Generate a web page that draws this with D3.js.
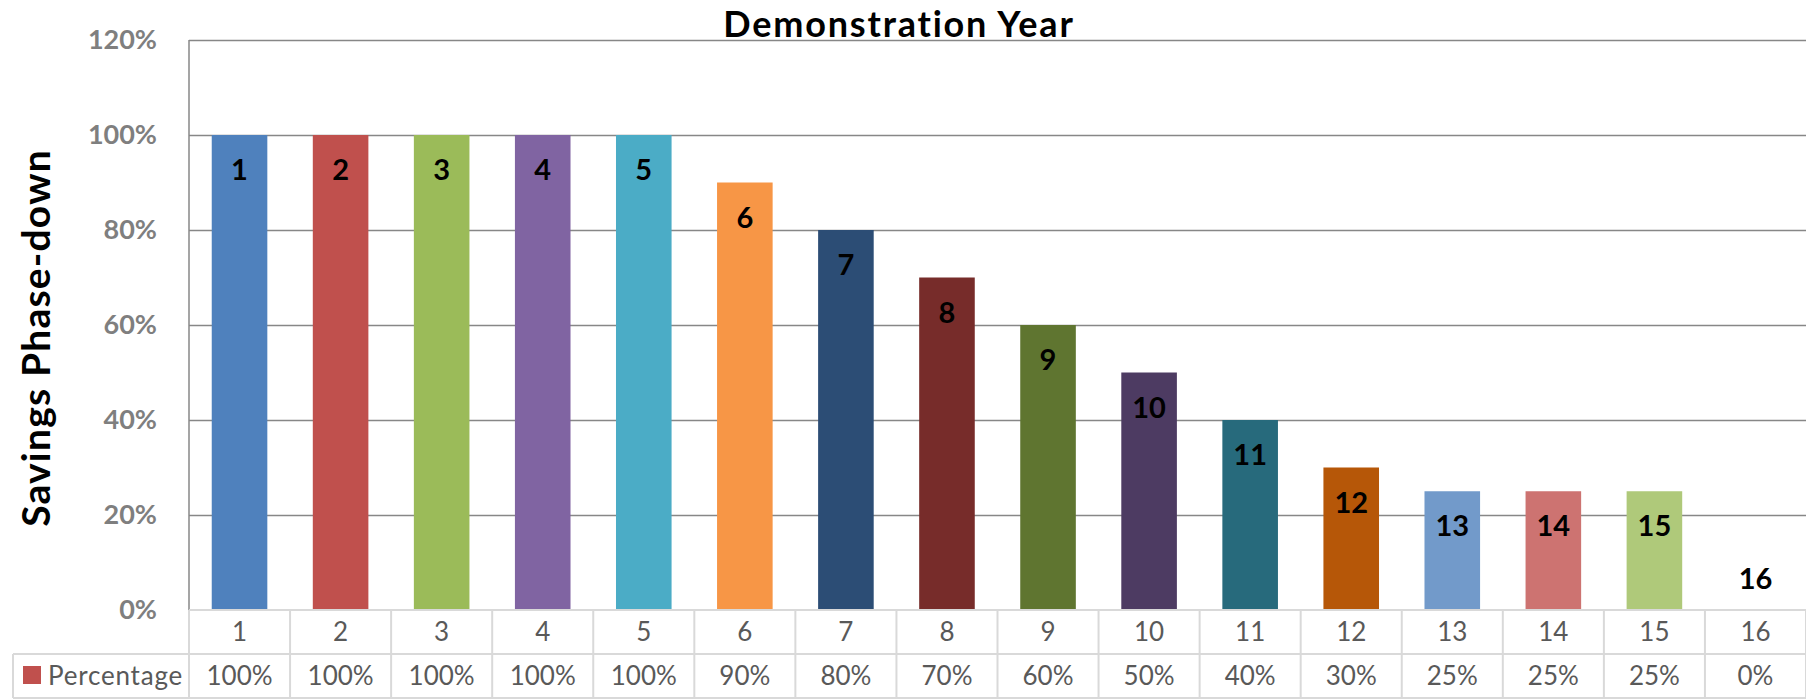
<!DOCTYPE html>
<html>
<head>
<meta charset="utf-8">
<script src="https://cdn.jsdelivr.net/npm/d3@7"></script>
<style>
  html, body { margin: 0; padding: 0; background: #fff; }
  svg { display: block; font-family: Lato, "Open Sans", sans-serif; }
</style>
</head>
<body>
<svg id="chart" width="1806" height="700"></svg>
<script>
// data
var years = ['1','2','3','4','5','6','7','8','9','10','11','12','13','14','15','16'];
var percentage = [100,100,100,100,100,90,80,70,60,50,40,30,25,25,25,0];
var barColors = ['#4f81bd','#c0504d','#9bbb59','#8064a2','#4bacc6','#f79646','#2c4d75','#772c2a',
                 '#5f7530','#4d3b62','#276a7c','#b65708','#729aca','#cd7371','#afc97a','#f4b183'];
var yTicks = [0,20,40,60,80,100,120];
var seriesName = 'Percentage';
var legendColor = '#c0504d';

var W = 1806, H = 700;
var m = {left: 189, right: 1806, top: 40, bottom: 610};
var rowH = 44;

var svg = d3.select('#chart');

var x = d3.scaleBand()
    .domain(years)
    .range([m.left, m.right])
    .paddingInner(0.45)
    .paddingOuter(0.225);

var y = d3.scaleLinear()
    .domain([0, 120])
    .range([m.bottom, m.top]);

// gridlines + tick labels
var yAxis = d3.axisLeft(y)
    .tickValues(yTicks)
    .tickSize(-(m.right - m.left))
    .tickPadding(32)
    .tickFormat(function(d){ return d + '%'; });

var gy = svg.append('g')
    .attr('class','yAxis')
    .attr('transform','translate(' + m.left + ',0)')
    .call(yAxis);
gy.select('.domain').remove();
gy.selectAll('.tick line')
    .attr('stroke', '#878787')
    .attr('stroke-width', 1.5)
    .filter(function(d){ return d === 0; }).remove();
gy.selectAll('.tick text')
    .attr('fill', '#7f7f7f')
    .attr('font-size', 27)
    .attr('font-weight', 'bold')
    .attr('font-family', 'Lato, sans-serif');

// left axis line
svg.append('line')
    .attr('x1', m.left).attr('x2', m.left)
    .attr('y1', y(120)).attr('y2', y(0))
    .attr('stroke', '#878787')
    .attr('stroke-width', 1.5);

// bars
var rows = years.map(function(d, i){ return {year: d, value: percentage[i], color: barColors[i]}; });

svg.append('g').selectAll('rect')
    .data(rows)
    .enter().append('rect')
    .attr('x', function(d){ return x(d.year); })
    .attr('width', x.bandwidth())
    .attr('y', function(d){ return y(d.value); })
    .attr('height', function(d){ return y(0) - y(d.value); })
    .attr('fill', function(d){ return d.color; });

// labels inside the bar tops
svg.append('g').selectAll('text')
    .data(rows)
    .enter().append('text')
    .attr('x', function(d){ return x(d.year) + x.bandwidth() / 2; })
    .attr('y', function(d){ return d.value > 0 ? y(d.value) + 35 : y(0) - 31; })
    .attr('dy', '0.35em')
    .attr('text-anchor', 'middle')
    .attr('font-size', 29)
    .attr('font-weight', 'bold')
    .attr('fill', '#000')
    .text(function(d){ return d.year; });

// data table under the plot
var table = svg.append('g').attr('class','table');
var grid = '#d9d9d9';
var step = x.step();
var cellLeft = function(i){ return m.left + i * step; };

table.append('line')
    .attr('x1', m.left).attr('x2', m.right)
    .attr('y1', m.bottom).attr('y2', m.bottom)
    .attr('stroke', grid).attr('stroke-width', 2);
[m.bottom + rowH, m.bottom + 2 * rowH].forEach(function(yy){
  table.append('line')
      .attr('x1', 13).attr('x2', m.right)
      .attr('y1', yy).attr('y2', yy)
      .attr('stroke', grid).attr('stroke-width', 2);
});
table.append('line')
    .attr('x1', 13).attr('x2', 13)
    .attr('y1', m.bottom + rowH).attr('y2', m.bottom + 2 * rowH)
    .attr('stroke', grid).attr('stroke-width', 2);
table.selectAll('.vline')
    .data(d3.range(years.length + 1))
    .enter().append('line')
    .attr('class','vline')
    .attr('x1', function(i){ return cellLeft(i); })
    .attr('x2', function(i){ return cellLeft(i); })
    .attr('y1', m.bottom).attr('y2', m.bottom + 2 * rowH)
    .attr('stroke', grid).attr('stroke-width', 2);

table.selectAll('.cat')
    .data(rows)
    .enter().append('text')
    .attr('class','cat')
    .attr('x', function(d, i){ return cellLeft(i) + step / 2; })
    .attr('y', m.bottom + rowH / 2)
    .attr('dy', '0.35em')
    .attr('text-anchor', 'middle')
    .attr('font-size', 26)
    .attr('fill', '#595959')
    .text(function(d){ return d.year; });

table.selectAll('.val')
    .data(rows)
    .enter().append('text')
    .attr('class','val')
    .attr('x', function(d, i){ return cellLeft(i) + step / 2; })
    .attr('y', m.bottom + rowH * 1.5)
    .attr('dy', '0.35em')
    .attr('text-anchor', 'middle')
    .attr('font-size', 26)
    .attr('fill', '#595959')
    .text(function(d){ return d.value + '%'; });

// legend key in table
table.append('rect')
    .attr('x', 23).attr('y', m.bottom + rowH + 12)
    .attr('width', 18).attr('height', 18)
    .attr('fill', legendColor);
table.append('text')
    .attr('x', 48)
    .attr('y', m.bottom + rowH * 1.5)
    .attr('dy', '0.35em')
    .attr('font-size', 26)
    .attr('letter-spacing', 0.8)
    .attr('fill', '#595959')
    .text(seriesName);

// titles
svg.append('text')
    .attr('x', W / 2 - 4)
    .attr('y', 37)
    .attr('text-anchor', 'middle')
    .attr('font-size', 36)
    .attr('letter-spacing', 1.8)
    .attr('font-weight', 'bold')
    .attr('fill', '#000')
    .text('Demonstration Year');

svg.append('text')
    .attr('transform', 'translate(50,' + 338 + ') rotate(-90)')
    .attr('text-anchor', 'middle')
    .attr('font-size', 39)
    .attr('letter-spacing', 1.2)
    .attr('font-weight', 'bold')
    .attr('fill', '#000')
    .text('Savings Phase-down');
</script>
</body>
</html>
